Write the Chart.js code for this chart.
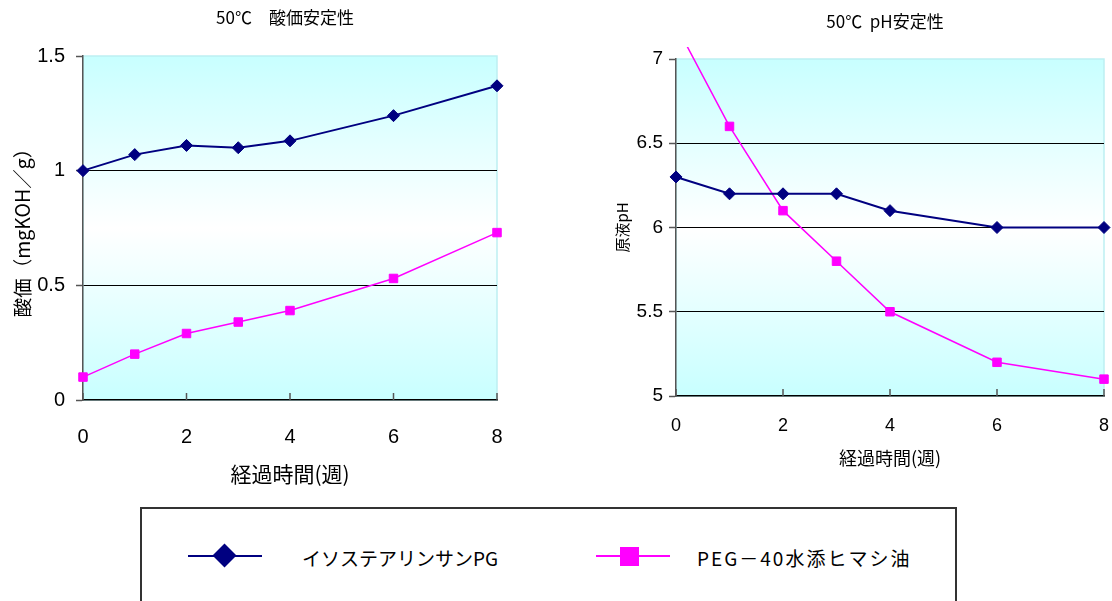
<!DOCTYPE html>
<html>
<head>
<meta charset="utf-8">
<script src="https://cdn.jsdelivr.net/npm/chart.js@4.4.1/dist/chart.umd.min.js"></script>
<style>
  html, body { margin: 0; padding: 0; background: #fff; }
  body { width: 1112px; height: 601px; position: relative; overflow: hidden; font-family: "Noto Sans CJK JP", sans-serif; }
  #acidChart { position: absolute; left: 0; top: 0; }
  #phChart { position: absolute; left: 580px; top: 0; }
  #legend { position: absolute; left: 140px; top: 507px; width: 817px; height: 130px; border: 2px solid #333; box-sizing: border-box; }
  #legend .line { position: absolute; height: 2px; width: 74px; top: 46px; }
  #legend .mark { position: absolute; }
  #legend .text { position: absolute; top: 37px; font-size: 19px; line-height: 24px; color: #000; white-space: nowrap; }
</style>
</head>
<body>
<canvas id="acidChart" width="560" height="500"></canvas>
<canvas id="phChart" width="532" height="500"></canvas>
<div id="legend">
  <div class="line" style="left:46px;background:#000080"></div>
  <div class="mark" style="left:74px;top:38px;width:17px;height:17px;background:#000080;transform:rotate(45deg)"></div>
  <div class="text" id="legendIso" style="left:160px"></div>
  <div class="line" style="left:454px;background:#ff00ff"></div>
  <div class="mark" style="left:478px;top:38px;width:19px;height:19px;background:#ff00ff"></div>
  <div class="text" id="legendPeg" style="left:555px;letter-spacing:2px"></div>
</div>
<script>
// 経過時間(週)
const weeks = [0, 1, 2, 3, 4, 6, 8]
const weekTicks = [0, 2, 4, 6, 8]
const seriesNames = ['イソステアリンサンPG', 'PEG－40水添ヒマシ油']

// 50℃ 酸価安定性
const acidIso = [1.00, 1.07, 1.11, 1.10, 1.13, 1.24, 1.37]
const acidPeg = [0.10, 0.20, 0.29, 0.34, 0.39, 0.53, 0.73]
const acidTicks = [0, 0.5, 1, 1.5]

// 50℃ pH安定性
const phIso = [6.3, 6.2, 6.2, 6.2, 6.1, 6.0, 6.0]
const phPeg = [7.2, 6.6, 6.1, 5.8, 5.5, 5.2, 5.1]
const phTicks = [5, 5.5, 6, 6.5, 7]

const NARROW = '"Liberation Sans Narrow", "Liberation Sans", sans-serif'
const CJK = '"Noto Sans CJK JP", sans-serif'

document.getElementById('legendIso').textContent = seriesNames[0]
document.getElementById('legendPeg').textContent = seriesNames[1]

// plot area: cyan -> white -> cyan
const plotBackground = {
    id: 'plotBackground',
    beforeDraw(chart) {
        const {ctx, chartArea: a} = chart
        const g = ctx.createLinearGradient(0, a.top, 0, a.bottom)
        g.addColorStop(0, '#c8ffff')
        g.addColorStop(0.5, '#ffffff')
        g.addColorStop(1, '#c8ffff')
        ctx.save()
        ctx.fillStyle = g
        ctx.fillRect(a.left, a.top, a.right - a.left, a.bottom - a.top)
        ctx.strokeStyle = '#bdeff2'
        ctx.lineWidth = 1.5
        ctx.strokeRect(a.left, a.top, a.right - a.left, a.bottom - a.top)
        ctx.restore()
    }
}

// small tick marks pointing into the plot on the x axis
const innerTicks = {
    id: 'innerTicks',
    beforeDatasetsDraw(chart) {
        const {ctx, chartArea: a, scales} = chart
        ctx.save()
        ctx.strokeStyle = '#555'
        ctx.lineWidth = 1.5
        scales.x.ticks.forEach(t => {
            const px = scales.x.getPixelForValue(t.value)
            ctx.beginPath()
            ctx.moveTo(px, a.bottom)
            ctx.lineTo(px, a.bottom - 7)
            ctx.stroke()
        })
        ctx.restore()
    }
}

// chart title placed at a fixed point
const sideTitle = {
    id: 'sideTitle',
    afterDraw(chart, args, opts) {
        const {ctx} = chart
        ctx.save()
        ctx.font = `${opts.size}px ${CJK}`
        ctx.fillStyle = '#000'
        ctx.textAlign = 'center'
        ctx.textBaseline = 'middle'
        ctx.fillText(opts.text, opts.x, opts.y)
        ctx.restore()
    }
}

const points = (values) => weeks.map((w, i) => ({x: w, y: values[i]}))

const isoStyle = {
    borderColor: '#000080',
    backgroundColor: '#000080',
    borderWidth: 2,
    pointStyle: 'rectRot',
    pointRadius: 6,
    pointHoverRadius: 6,
    pointBorderWidth: 1
}
const pegStyle = {
    borderColor: '#ff00ff',
    backgroundColor: '#ff00ff',
    borderWidth: 1.5,
    pointStyle: 'rect',
    pointRadius: 6,
    pointHoverRadius: 6,
    pointBorderWidth: 1
}

const gridColor = (ctx) => {
    const s = ctx.scale
    const v = ctx.tick && ctx.tick.value
    return (v > s.min && v < s.max) ? '#000' : 'rgba(0,0,0,0)'
}

const makeScales = (s) => ({
    x: {
        type: 'linear',
        min: weekTicks[0],
        max: weekTicks[weekTicks.length - 1],
        afterBuildTicks: (sc) => { sc.ticks = weekTicks.map(v => ({value: v})) },
        afterFit: (sc) => {
            sc.height = s.xHeight
            sc.paddingLeft = 0
            sc.paddingRight = 0
        },
        grid: {display: false, drawTicks: false},
        border: {display: true, color: '#000', width: 1.5},
        ticks: {padding: s.xTickPad, color: '#000', maxRotation: 0, font: {family: NARROW, size: s.xTickSize}, callback: v => String(v)},
        title: {display: true, text: '経過時間(週)', color: '#000', font: {family: CJK, size: s.xTitleSize}, padding: {top: 0, bottom: s.xTitlePad}}
    },
    y: {
        min: s.yTicks[0],
        max: s.yTicks[s.yTicks.length - 1],
        afterBuildTicks: (sc) => { sc.ticks = s.yTicks.map(v => ({value: v})) },
        afterFit: (sc) => { sc.width = s.yWidth },
        grid: {color: gridColor, lineWidth: 1, drawTicks: true, tickLength: 7, tickColor: '#555', tickWidth: 1.5},
        border: {display: true, color: '#555', width: 1.5},
        ticks: {padding: s.yTickPad, color: '#000', font: {family: NARROW, size: s.yTickSize}, callback: v => String(v)},
        title: {display: true, text: s.yTitle, color: '#000', font: {family: CJK, size: s.yTitleSize}, padding: {top: s.yTitlePad, bottom: 0}}
    }
})

new Chart(document.getElementById('acidChart'), {
    type: 'line',
    data: {
        datasets: [
            {label: seriesNames[0], data: points(acidIso), clip: 10, ...isoStyle},
            {label: seriesNames[1], data: points(acidPeg), clip: 10, ...pegStyle}
        ]
    },
    options: {
        responsive: false,
        animation: false,
        layout: {padding: {top: 56, left: 0, right: 63, bottom: 0}},
        plugins: {
            legend: {display: false},
            tooltip: {enabled: false},
            sideTitle: {text: '50℃　酸価安定性', x: 285, y: 18, size: 17}
        },
        scales: makeScales({
            xHeight: 100, xTickPad: 25, xTickSize: 20, xTitleSize: 21, xTitlePad: 13,
            yTicks: acidTicks, yWidth: 83, yTickPad: 11, yTickSize: 20,
            yTitle: '酸価（mgKOH／g）', yTitleSize: 19.5, yTitlePad: 11
        })
    },
    plugins: [plotBackground, innerTicks, sideTitle]
})

new Chart(document.getElementById('phChart'), {
    type: 'line',
    data: {
        datasets: [
            {label: seriesNames[0], data: points(phIso), clip: 10, ...isoStyle},
            {label: seriesNames[1], data: points(phPeg), clip: {left: 10, top: 12, right: 10, bottom: 10}, ...pegStyle}
        ]
    },
    options: {
        responsive: false,
        animation: false,
        layout: {padding: {top: 59, left: 0, right: 8, bottom: 0}},
        plugins: {
            legend: {display: false},
            tooltip: {enabled: false},
            sideTitle: {text: '50℃  pH安定性', x: 305, y: 22, size: 17}
        },
        scales: makeScales({
            xHeight: 104, xTickPad: 19, xTickSize: 18, xTitleSize: 18, xTitlePad: 31,
            yTicks: phTicks, yWidth: 96, yTickPad: 6, yTickSize: 19,
            yTitle: '原液pH', yTitleSize: 15, yTitlePad: 33
        })
    },
    plugins: [plotBackground, innerTicks, sideTitle]
})
</script>
</body>
</html>
